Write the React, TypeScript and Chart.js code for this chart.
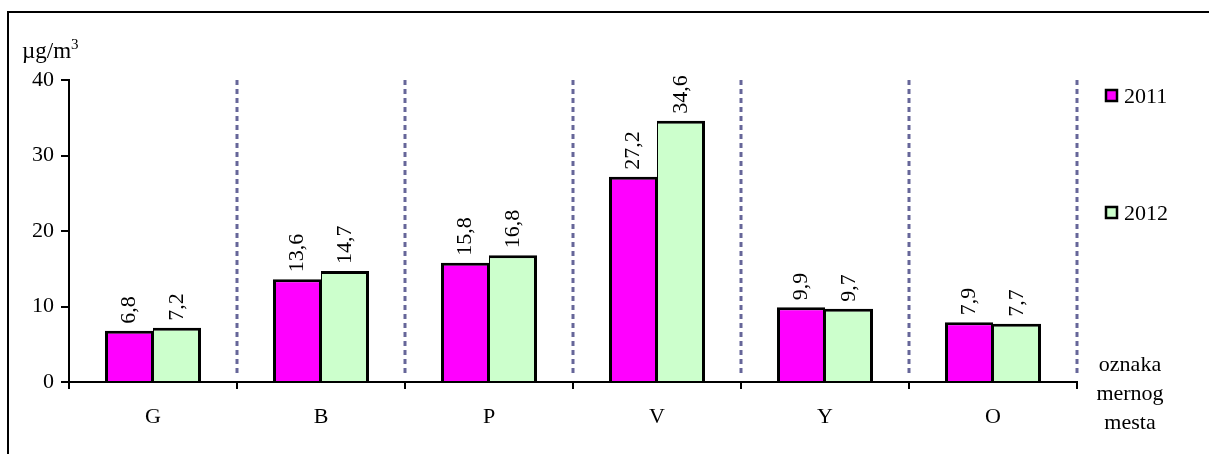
import React, { useEffect, useRef } from "react";
import { Chart, registerables } from "chart.js";

Chart.register(...registerables);

const categories = ["G", "B", "P", "V", "Y", "O"];
const series2011 = [6.8, 13.6, 15.8, 27.2, 9.9, 7.9];
const series2012 = [7.2, 14.7, 16.8, 34.6, 9.7, 7.7];
const seriesNames = ["2011", "2012"];
const seriesColors = ["#FF00FF", "#CCFFCC"];
const yMin = 0;
const yMax = 40;
const yStep = 10;
const unitLabel = "µg/m";
const unitSup = "3";
const xTitleLines = ["oznaka", "mernog", "mesta"];

const FONT = "'Liberation Serif', 'Times New Roman', serif";
const FS = 22;
const FS_LABEL = 22;

const fmt = (v: number) => v.toFixed(1).replace(".", ",");

const decorPlugin = {
  id: "decor",
  beforeDraw(chart: any) {
    const ctx = chart.ctx;
    ctx.save();
    ctx.fillStyle = "#ffffff";
    ctx.fillRect(0, 0, chart.width, chart.height);
    ctx.fillStyle = "#000000";
    ctx.fillRect(7, 11, 2, chart.height - 11);
    ctx.fillRect(7, 11, chart.width - 7, 2);
    const { top, bottom, left, right } = chart.chartArea;
    const n = chart.data.labels.length;
    const w = (right - left) / n;
    ctx.strokeStyle = "#666699";
    ctx.lineWidth = 3;
    ctx.setLineDash([5, 4]);
    for (let i = 1; i <= n; i++) {
      const x = Math.round(left + i * w);
      ctx.beginPath();
      ctx.moveTo(x, top);
      ctx.lineTo(x, bottom - 7);
      ctx.stroke();
    }
    ctx.restore();
  },
  afterDatasetsDraw(chart: any) {
    const ctx = chart.ctx;
    ctx.save();
    ctx.font = `${FS_LABEL}px ${FONT}`;
    ctx.fillStyle = "#000";
    ctx.textAlign = "left";
    ctx.textBaseline = "middle";
    chart.data.datasets.forEach((ds: any, di: number) => {
      const meta = chart.getDatasetMeta(di);
      meta.data.forEach((bar: any, i: number) => {
        ctx.save();
        ctx.translate(bar.x, bar.y - 7);
        ctx.rotate(-Math.PI / 2);
        ctx.fillText(fmt(ds.data[i]), 0, 0);
        ctx.restore();
      });
    });
    ctx.restore();
  },
  afterDraw(chart: any) {
    const ctx = chart.ctx;
    ctx.save();
    ctx.fillStyle = "#000";
    // unit label
    ctx.font = `23px ${FONT}`;
    ctx.textAlign = "left";
    ctx.textBaseline = "alphabetic";
    ctx.fillText(unitLabel, 22, 58);
    const uw = ctx.measureText(unitLabel).width;
    ctx.font = `15px ${FONT}`;
    ctx.fillText(unitSup, 22 + uw, 49);
    // x axis title
    ctx.font = `${FS}px ${FONT}`;
    ctx.textAlign = "center";
    ctx.textBaseline = "middle";
    const { right } = chart.chartArea;
    const cx = right + 53;
    xTitleLines.forEach((t, i) => ctx.fillText(t, cx, 365 + i * 29));
    // legend
    const legendY = [96, 213];
    chart.data.datasets.forEach((ds: any, di: number) => {
      const y = legendY[di];
      const sx = right + 29;
      ctx.fillStyle = ds.backgroundColor;
      ctx.fillRect(sx, y - 6, 11, 11);
      ctx.strokeStyle = "#000";
      ctx.lineWidth = 2.5;
      ctx.strokeRect(sx, y - 6, 11, 11);
      ctx.fillStyle = "#000";
      ctx.textAlign = "left";
      ctx.fillText(ds.label, sx + 18, y + 1);
    });
    ctx.restore();
  },
};

export default function App() {
  const ref = useRef<HTMLCanvasElement | null>(null);
  useEffect(() => {
    if (!ref.current) return;
    const chart = new Chart(ref.current, {
      type: "bar",
      data: {
        labels: categories,
        datasets: [
          {
            label: seriesNames[0],
            data: series2011,
            backgroundColor: seriesColors[0],
            borderColor: "#000",
            borderWidth: { top: 3, left: 3, right: 2, bottom: 0 },
            borderSkipped: "bottom",
          },
          {
            label: seriesNames[1],
            data: series2012,
            backgroundColor: seriesColors[1],
            borderColor: "#000",
            borderWidth: { top: 3, left: 1, right: 3, bottom: 0 },
            borderSkipped: "bottom",
          },
        ],
      },
      options: {
        responsive: false,
        animation: false,
        devicePixelRatio: 1,
        layout: { padding: { top: 80, right: 132, left: 0, bottom: 0 } },
        datasets: {
          bar: { categoryPercentage: 96 / 168, barPercentage: 1 },
        },
        plugins: {
          legend: { display: false },
          tooltip: { enabled: false },
          title: { display: false },
        },
        scales: {
          x: {
            afterFit: (s: any) => {
              s.height = 72;
            },
            grid: {
              offset: true,
              drawOnChartArea: false,
              drawTicks: true,
              tickLength: 7,
              color: "#000",
              lineWidth: 2,
            },
            border: { color: "#000", width: 2 },
            ticks: {
              color: "#000",
              font: { family: FONT, size: FS },
              padding: 15,
              maxRotation: 0,
            },
          },
          y: {
            min: yMin,
            max: yMax,
            afterFit: (s: any) => {
              s.width = 69;
            },
            grid: {
              drawOnChartArea: false,
              drawTicks: true,
              tickLength: 8,
              color: "#000",
              lineWidth: 2,
            },
            border: { color: "#000", width: 2 },
            ticks: {
              stepSize: yStep,
              color: "#000",
              font: { family: FONT, size: FS },
              padding: 7,
            },
          },
        },
      },
      plugins: [decorPlugin],
    });
    return () => chart.destroy();
  }, []);
  return (
    <div style={{ position: "absolute", left: 0, top: 0, width: 1209, height: 454 }}>
      <canvas ref={ref} width={1209} height={454} style={{ display: "block" }} />
    </div>
  );
}
